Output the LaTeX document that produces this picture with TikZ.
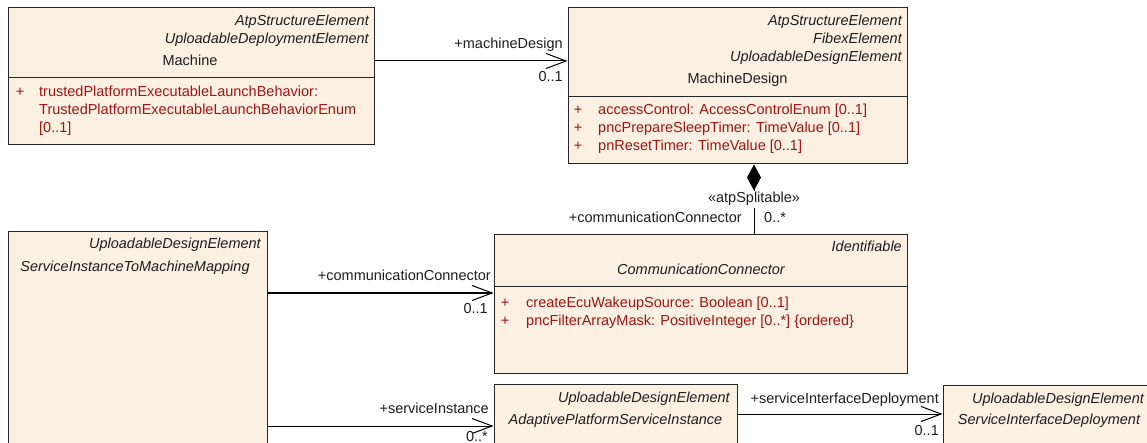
\documentclass[tikz,border=0pt]{standalone}
\usepackage{fontspec}
\setmainfont{Liberation Sans}
\usetikzlibrary{arrows.meta}
\definecolor{clsfill}{RGB}{251,240,226}
\definecolor{attrred}{RGB}{160,20,20}
\definecolor{txt}{RGB}{30,30,30}
\tikzset{
  cls/.style={draw=black!85, line width=1pt, fill=clsfill, rectangle, inner sep=0pt},
  sep/.style={draw=black!85, line width=1pt},
  t/.style={inner sep=0pt, font=\fontsize{14.5}{18}\selectfont, text=txt},
  ti/.style={t, font=\fontsize{14.5}{18}\selectfont\itshape},
  ta/.style={t, text=attrred},
  assoc/.style={draw=black, line width=1pt, -{Straight Barb[length=20pt,width=15pt,line width=1pt]}},
  comp/.style={draw=black, line width=1pt, {Diamond[length=26pt,width=14pt,fill=black]}-},
}
\begin{document}
\begin{tikzpicture}[x=1pt,y=-1pt]
\useasboundingbox (0,0) rectangle (1147,443);
\clip (0,0) rectangle (1147,443);
\fill[white] (0,0) rectangle (1147,443);

% ---------- class boxes ----------
\node[cls, minimum width=366pt, minimum height=137pt] (machine) at (191,76.5) {};
\node[cls, minimum width=339pt, minimum height=156pt] (mdesign) at (737.5,86) {};
\node[cls, minimum width=413pt, minimum height=138pt] (cc) at (700.5,304) {};
\node[cls, minimum width=259pt, minimum height=238pt] (sitm) at (137.5,351) {};
\node[cls, minimum width=243pt, minimum height=86pt] (apsi) at (615.5,427) {};
\node[cls, minimum width=217pt, minimum height=85pt] (sid) at (1051.5,427.5) {};

% separators
\draw[sep] (machine.west |- 0,78) -- (machine.east |- 0,78);
\draw[sep] (mdesign.west |- 0,97) -- (mdesign.east |- 0,97);
\draw[sep] (cc.west |- 0,287) -- (cc.east |- 0,287);

% ---------- Machine ----------
\node[ti, anchor=base east] (m1) at (369,26) {AtpStructureElement};
\node[ti, anchor=base east] (m2) at (369,44) {UploadableDeploymentElement};
\node[t, anchor=base] (m3) at (190,66) {Machine};
\node[ta, anchor=base] (mp1) at (20,97) {+};
\node[ta, anchor=base west] (ma1) at (39,97) {trustedPlatformExecutableLaunchBehavior:};
\node[ta, anchor=base west] (ma2) at (39,115) {TrustedPlatformExecutableLaunchBehaviorEnum};
\node[ta, anchor=base west] (ma3) at (39,133) {[0..1]};

% ---------- MachineDesign ----------
\node[ti, anchor=base east] (d1) at (902,26) {AtpStructureElement};
\node[ti, anchor=base east] (d2) at (902,44) {FibexElement};
\node[ti, anchor=base east] (d3) at (902,62) {UploadableDesignElement};
\node[t, anchor=base] (d4) at (737.5,84) {MachineDesign};
\node[ta, anchor=base] (dp1) at (578,115) {+};
\node[ta, anchor=base] (dp2) at (578,133) {+};
\node[ta, anchor=base] (dp3) at (578,151) {+};
\node[ta, anchor=base west] (da1) at (598,115) {accessControl: AccessControlEnum [0..1]};
\node[ta, anchor=base west] (da2) at (598,133) {pncPrepareSleepTimer: TimeValue [0..1]};
\node[ta, anchor=base west] (da3) at (598,151) {pnResetTimer: TimeValue [0..1]};

% ---------- CommunicationConnector ----------
\node[ti, anchor=base east] (c1) at (902,252) {Identifiable};
\node[ti, anchor=base] (c2) at (701,275) {CommunicationConnector};
\node[ta, anchor=base] (cp1) at (505,307) {+};
\node[ta, anchor=base] (cp2) at (505,325) {+};
\node[ta, anchor=base west] (ca1) at (526,307) {createEcuWakeupSource: Boolean [0..1]};
\node[ta, anchor=base west] (ca2) at (526,325) {pncFilterArrayMask: PositiveInteger [0..*] \{ordered\}};

% ---------- ServiceInstanceToMachineMapping ----------
\node[ti, anchor=base east] (s1) at (261,249) {UploadableDesignElement};
\node[ti, anchor=base] (s2) at (135,272) {ServiceInstanceToMachineMapping};

% ---------- AdaptivePlatformServiceInstance ----------
\node[ti, anchor=base east] (p1) at (730,402) {UploadableDesignElement};
\node[ti, anchor=base] (p2) at (615.5,424) {AdaptivePlatformServiceInstance};

% ---------- ServiceInterfaceDeployment ----------
\node[ti, anchor=base west] (q1) at (972,403) {UploadableDesignElement};
\node[ti, anchor=base] (q2) at (1049,424) {ServiceInterfaceDeployment};

% ---------- connectors ----------
\draw[assoc] ([yshift=15.5pt]machine.east) -- ([yshift=15.5pt]machine.east -| mdesign.west);
\node[t, anchor=base east] (l1) at (563,49) {+machineDesign};
\node[t, anchor=base east] (l1m) at (563,82) {0..1};

\draw[comp] ([xshift=16.5pt]mdesign.south) -- ([xshift=16.5pt]mdesign.south |- cc.north);
\node[t, anchor=base, fill=white, inner sep=1.5pt] (st) at (754,203) {\guillemotleft atpSplitable\guillemotright};
\node[t, anchor=base east] (l2) at (742,223) {+communicationConnector};
\node[t, anchor=base west] (l2m) at (764,223) {0..*};

\draw[assoc] ([yshift=58pt]sitm.east) -- ([yshift=58pt]sitm.east -| cc.west);
\node[t, anchor=base east] (l3) at (491,281) {+communicationConnector};
\node[t, anchor=base east] (l3m) at (488,313) {0..1};

\draw[assoc] ([yshift=-75pt]sitm.east) -- ([yshift=-75pt]sitm.east -| apsi.west);
\node[t, anchor=base east] (l4) at (489,413) {+serviceInstance};
\node[t, anchor=base east] (l4m) at (488,441) {0..*};

\draw[assoc] ([yshift=13pt]apsi.east) -- ([yshift=13pt]apsi.east -| sid.west);
\node[t, anchor=base east] (l5) at (939,403) {+serviceInterfaceDeployment};
\node[t, anchor=base east] (l5m) at (939,435) {0..1};
\end{tikzpicture}
\end{document}
